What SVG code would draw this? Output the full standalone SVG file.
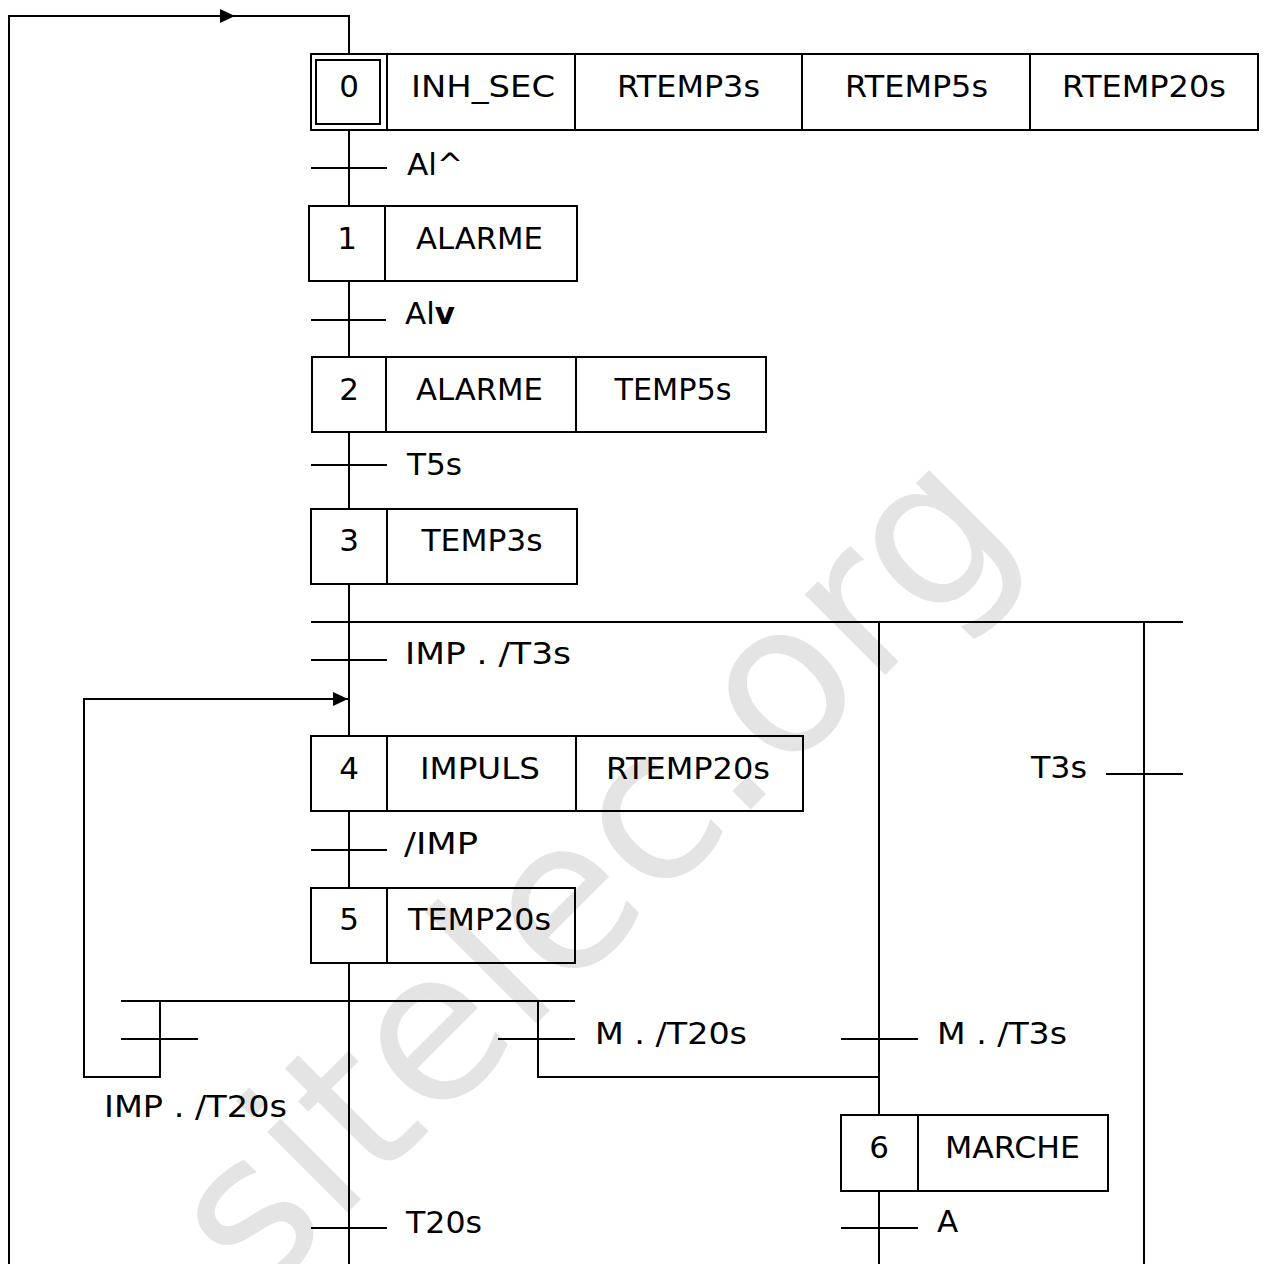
<svg xmlns="http://www.w3.org/2000/svg" width="1267" height="1264" viewBox="0 0 1267 1264">
<style>
.ln{stroke:#000;stroke-width:2;fill:none}
.bx{fill:none;stroke:#000;stroke-width:2}
.t{font-family:"DejaVu Sans",Verdana,sans-serif;font-size:31px;fill:#000}
.c{text-anchor:middle}
.wm{font-family:"DejaVu Sans",Verdana,sans-serif;font-size:208px;fill:#e4e4e4;text-anchor:middle}
</style>
<defs>
<marker id="arr" viewBox="0 0 15 14" refX="15" refY="7" markerWidth="15" markerHeight="14" markerUnits="userSpaceOnUse" orient="auto">
<path d="M0,0 L15,7 L0,14 z" fill="#000"/>
</marker>
</defs>
<rect width="1267" height="1264" fill="#fff"/>
<text class="wm" x="640" y="920" transform="rotate(-45 640 920)">sitelec.org</text>

<g id="connectors">
<path class="ln" d="M9,1264 V16 H235" marker-end="url(#arr)"/>
<path class="ln" d="M234,16 H349 V54"/>
<path class="ln" d="M349,130 V206"/>
<path class="ln" d="M349,281 V357"/>
<path class="ln" d="M349,432 V509"/>
<path class="ln" d="M349,584 V736"/>
<path class="ln" d="M349,811 V888"/>
<path class="ln" d="M349,963 V1264"/>
<path class="ln" d="M311,622 H1183"/>
<path class="ln" d="M879,622 V1115"/>
<path class="ln" d="M879,1191 V1264"/>
<path class="ln" d="M1144,622 V1264"/>
<path class="ln" d="M121,1001 H575"/>
<path class="ln" d="M160,1001 V1077 H84 V699 H348" marker-end="url(#arr)"/>
<path class="ln" d="M538,1001 V1077 H879"/>
<!-- transitions -->
<path class="ln" d="M311,168 H387"/>
<path class="ln" d="M311,320 H386"/>
<path class="ln" d="M311,465 H387"/>
<path class="ln" d="M311,660 H387"/>
<path class="ln" d="M311,850 H387"/>
<path class="ln" d="M121,1039 H198"/>
<path class="ln" d="M498,1039 H575"/>
<path class="ln" d="M841,1039 H918"/>
<path class="ln" d="M311,1228 H387"/>
<path class="ln" d="M841,1228 H918"/>
<path class="ln" d="M1106,774 H1183"/>
</g>

<g id="step0">
<rect class="bx" x="311" y="54" width="76" height="76"/>
<rect class="bx" x="316" y="60" width="64" height="64"/>
<rect class="bx" x="387" y="54" width="188" height="76"/>
<rect class="bx" x="575" y="54" width="227" height="76"/>
<rect class="bx" x="802" y="54" width="228" height="76"/>
<rect class="bx" x="1030" y="54" width="228" height="76"/>
<text class="t c" x="349" y="97">0</text>
<text class="t c" x="483" y="97" textLength="144" lengthAdjust="spacingAndGlyphs">INH_SEC</text>
<text class="t c" x="688.5" y="97" textLength="143" lengthAdjust="spacingAndGlyphs">RTEMP3s</text>
<text class="t c" x="916.5" y="97" textLength="143" lengthAdjust="spacingAndGlyphs">RTEMP5s</text>
<text class="t c" x="1144" y="97" textLength="164" lengthAdjust="spacingAndGlyphs">RTEMP20s</text>
</g>

<g id="step1">
<rect class="bx" x="309" y="206" width="76" height="75"/>
<rect class="bx" x="385" y="206" width="192" height="75"/>
<text class="t c" x="347" y="249">1</text>
<text class="t c" x="479.5" y="249" textLength="127" lengthAdjust="spacingAndGlyphs">ALARME</text>
</g>

<g id="step2">
<rect class="bx" x="312" y="357" width="74" height="75"/>
<rect class="bx" x="386" y="357" width="190" height="75"/>
<rect class="bx" x="576" y="357" width="190" height="75"/>
<text class="t c" x="349" y="400">2</text>
<text class="t c" x="479.5" y="400" textLength="127" lengthAdjust="spacingAndGlyphs">ALARME</text>
<text class="t c" x="673" y="400" textLength="117" lengthAdjust="spacingAndGlyphs">TEMP5s</text>
</g>

<g id="step3">
<rect class="bx" x="311" y="509" width="76" height="75"/>
<rect class="bx" x="387" y="509" width="190" height="75"/>
<text class="t c" x="349" y="551">3</text>
<text class="t c" x="482" y="551" textLength="121" lengthAdjust="spacingAndGlyphs">TEMP3s</text>
</g>

<g id="step4">
<rect class="bx" x="311" y="736" width="76" height="75"/>
<rect class="bx" x="387" y="736" width="189" height="75"/>
<rect class="bx" x="576" y="736" width="227" height="75"/>
<text class="t c" x="349" y="779">4</text>
<text class="t c" x="480" y="779" textLength="120" lengthAdjust="spacingAndGlyphs">IMPULS</text>
<text class="t c" x="688" y="779" textLength="164" lengthAdjust="spacingAndGlyphs">RTEMP20s</text>
</g>

<g id="step5">
<rect class="bx" x="311" y="888" width="76" height="75"/>
<rect class="bx" x="387" y="888" width="188" height="75"/>
<text class="t c" x="349" y="930">5</text>
<text class="t c" x="479.5" y="930" textLength="143" lengthAdjust="spacingAndGlyphs">TEMP20s</text>
</g>

<g id="step6">
<rect class="bx" x="841" y="1115" width="77" height="76"/>
<rect class="bx" x="918" y="1115" width="190" height="76"/>
<text class="t c" x="879" y="1158">6</text>
<text class="t c" x="1012.5" y="1158" textLength="135" lengthAdjust="spacingAndGlyphs">MARCHE</text>
</g>

<g id="labels">
<text class="t" x="407" y="175" textLength="56" lengthAdjust="spacingAndGlyphs">Al^</text>
<text class="t" x="405" y="324">Al<tspan font-weight="bold">v</tspan></text>
<text class="t" x="407" y="475" textLength="55" lengthAdjust="spacingAndGlyphs">T5s</text>
<text class="t" x="405" y="664" textLength="166" lengthAdjust="spacingAndGlyphs">IMP . /T3s</text>
<text class="t" x="404" y="854" textLength="74" lengthAdjust="spacingAndGlyphs">/IMP</text>
<text class="t" x="1031" y="778" textLength="56" lengthAdjust="spacingAndGlyphs">T3s</text>
<text class="t" x="595" y="1044" textLength="152" lengthAdjust="spacingAndGlyphs">M . /T20s</text>
<text class="t" x="937" y="1044" textLength="130" lengthAdjust="spacingAndGlyphs">M . /T3s</text>
<text class="t" x="104" y="1117" textLength="183" lengthAdjust="spacingAndGlyphs">IMP . /T20s</text>
<text class="t" x="406" y="1233" textLength="76" lengthAdjust="spacingAndGlyphs">T20s</text>
<text class="t" x="937" y="1232">A</text>
</g>
</svg>
